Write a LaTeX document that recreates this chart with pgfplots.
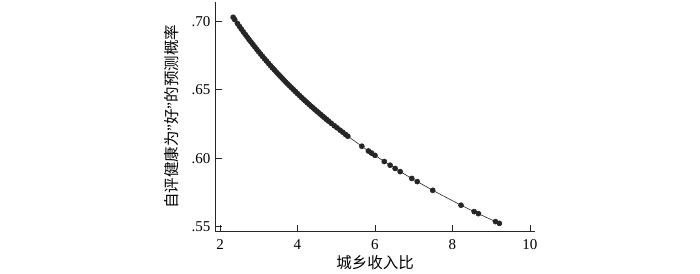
\documentclass[border=0pt]{standalone}
\usepackage{fontspec}
\setmainfont{Liberation Serif}
\newfontfamily\cjk{Noto Sans CJK SC}
\usepackage{pgfplots}
\pgfplotsset{compat=1.18}
\definecolor{pt}{HTML}{262626}
\begin{document}
\begin{tikzpicture}[x=1pt,y=1pt]
\path[use as bounding box] (0,0) rectangle (700,273);
\begin{axis}[
  at={(215pt,41.3pt)}, anchor=south west,
  scale only axis, width=320pt, height=229.7pt,
  xmin=1.871, xmax=10.13, ymin=0.5462, ymax=0.7144,
  axis x line*=bottom, axis y line*=left,
  axis line style={line width=0.9pt, color=pt},
  tick align=inside, major tick length=7pt,
  tick style={line width=0.9pt, color=pt},
  xtick={2,4,6,8,10}, xticklabels={2,4,6,8,10},
  ytick={0.55,0.60,0.65,0.70}, yticklabels={.55,.60,.65,.70},
  ticklabel style={font=\fontsize{15}{18}\selectfont},
  xticklabel style={yshift=-4pt},
  yticklabel style={xshift=-1pt},
  xlabel={{\cjk 城乡收入比}},
  ylabel={{\cjk 自评健康为}\symbol{34}{\cjk 好}\symbol{34}{\cjk 的预测概率}},
  label style={font=\fontsize{15.5}{18}\selectfont},
  xlabel style={at={(axis description cs:0.5,-0.135)}, anchor=center},
  ylabel style={at={(axis description cs:-0.1344,0.5)}, anchor=center},
  clip=false,
]
\addplot[color=pt, line width=0.6pt, mark=*, mark size=2.5pt, mark options={fill=pt, draw=pt}] coordinates {
(2.34,0.7032)(2.38,0.7015)(2.45,0.6987)(2.50,0.6966)(2.55,0.6946)(2.60,0.6926)
(2.65,0.6907)(2.70,0.6888)(2.75,0.6869)(2.80,0.6851)(2.85,0.6833)(2.90,0.6815)
(2.95,0.6797)(3.00,0.6779)(3.05,0.6762)(3.10,0.6745)(3.15,0.6728)(3.20,0.6712)
(3.25,0.6695)(3.30,0.6679)(3.35,0.6663)(3.40,0.6648)(3.45,0.6632)(3.50,0.6617)
(3.55,0.6602)(3.60,0.6587)(3.65,0.6572)(3.70,0.6557)(3.75,0.6543)(3.80,0.6529)
(3.85,0.6515)(3.90,0.6501)(3.95,0.6487)(4.00,0.6473)(4.05,0.6460)(4.10,0.6446)
(4.15,0.6433)(4.20,0.6420)(4.25,0.6407)(4.30,0.6394)(4.35,0.6381)(4.40,0.6369)
(4.45,0.6356)(4.50,0.6344)(4.55,0.6332)(4.60,0.6320)(4.65,0.6308)(4.70,0.6296)
(4.75,0.6284)(4.80,0.6272)(4.87,0.6256)(4.95,0.6238)(5.02,0.6223)(5.10,0.6205)
(5.17,0.6190)(5.24,0.6174)(5.30,0.6161)
(5.66,0.6088)(5.83,0.6053)(5.91,0.6038)(6.00,0.6021)(6.24,0.5976)(6.39,0.5949)
(6.52,0.5925)(6.65,0.5902)(6.95,0.5852)(7.09,0.5829)(7.49,0.5765)(8.22,0.5656)
(8.56,0.5609)(8.67,0.5594)(9.11,0.5536)(9.21,0.5523)
};
\end{axis}
\end{tikzpicture}
\end{document}
